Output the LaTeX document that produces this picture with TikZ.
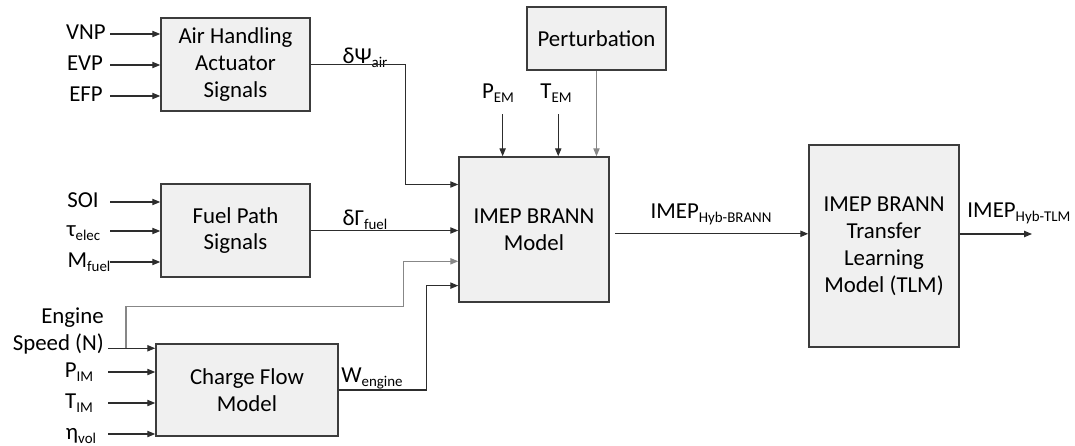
\documentclass[tikz,border=0pt]{standalone}
\usepackage{fontspec}
\setmainfont{Carlito}
\usetikzlibrary{
  arrows.meta,
  calc
}
\definecolor{boxfill}{RGB}{240,240,240}
\definecolor{boxline}{RGB}{60,60,60}
\definecolor{wire}{RGB}{45,45,45}
\definecolor{wiregray}{RGB}{135,135,135}
\newcommand{\subtxt}[1]{\raisebox{-2.5pt}{\fontsize{8.5}{9}\selectfont #1}}

\begin{document}
\begin{tikzpicture}[x=0.02cm, y=-0.02cm,
    every node/.style={font=\fontsize{13}{15.3}\selectfont},
    block/.style={draw=boxline, line width=0.9pt, fill=boxfill, align=center, inner sep=0pt},
    lbl/.style={text height=8pt, text depth=2pt, inner sep=0pt},
    sig/.style={draw=wire, line width=0.6pt, -{Triangle[length=4.5pt,width=3.6pt]}},
    graysig/.style={sig, draw=wiregray}]
            \useasboundingbox (0,0) rectangle (1075,446);

            % Blocks
            \node[block, minimum width=2.98cm, minimum height=1.86cm] (air) at (235.5,64.5) {Air Handling\\Actuator\\Signals};
            \node[block, minimum width=2.98cm, minimum height=1.86cm] (fuel) at (235.5,230.5) {Fuel Path\\Signals};
            \node[block, minimum width=3.64cm, minimum height=1.84cm] (charge) at (247,390) {Charge Flow\\Model};
            \node[block, minimum width=3cm, minimum height=2.9cm] (imep) at (534,229.5) {IMEP BRANN\\Model};
            \node[block, minimum width=2.78cm, minimum height=1.26cm] (pert) at (596.5,38.5) {Perturbation};
            \node[block, minimum width=3cm, minimum height=4.04cm] (tlm) at (884,246) {IMEP BRANN\\Transfer\\Learning\\Model (TLM)};

            % Ports
            \coordinate (inA) at (110,0);
            \coordinate (inB) at (108,0);
            \coordinate (imep-in1) at ($(imep.north west)!0.193!(imep.south west)$);
            \coordinate (imep-in3) at ($(imep.north west)!0.717!(imep.south west)$);
            \coordinate (imep-in4) at ($(imep.north west)!0.883!(imep.south west)$);
            \coordinate (imep-pem) at ($(imep.north west)!0.293!(imep.north east)$);
            \coordinate (imep-tem) at ($(imep.north west)!0.66!(imep.north east)$);
            \coordinate (spd-in) at ($(charge.north west)!0.054!(charge.south west)$);
            \coordinate (tlm-in) at ($(tlm.north west)!0.44!(tlm.south west)$);
            \coordinate (tlm-out) at (1032,234);

            % Input labels
            \node[lbl] (vnp) at (86,34) {VNP};
            \node[lbl] (evp) at (85,65) {EVP};
            \node[lbl] (efp) at (86,96) {EFP};
            \node[lbl] (soi) at (83,202) {SOI};
            \node[lbl] (tau) at (83.5,231) {τ\subtxt{elec}};
            \node[lbl] (mfuel) at (89,262) {M\subtxt{fuel}};
            \node[align=right, anchor=east] (speed) at (110,331) {Engine\\Speed (N)};
            \node[lbl] (pim) at (79,372) {P\subtxt{IM}};
            \node[lbl] (tim) at (79,403) {T\subtxt{IM}};
            \node[lbl] (eta) at (81,434) {η\subtxt{vol}};
            \node[lbl] (pem) at (498,93) {P\subtxt{EM}};
            \node[lbl] (tem) at (556,93) {T\subtxt{EM}};

            % Signal labels
            \node[lbl] (dpsi) at (365,58) {δΨ\subtxt{air}};
            \node[lbl] (dgam) at (365,220) {δΓ\subtxt{fuel}};
            \node[lbl] (weng) at (372,377) {W\subtxt{engine}};
            \node[lbl] (hybb) at (711,213) {IMEP\subtxt{Hyb-BRANN}};
            \node[lbl] (hybt) at (1019,212) {IMEP\subtxt{Hyb-TLM}};

            % Inputs
            \draw[sig] (vnp -| inA) -- (vnp -| air.west);
            \draw[sig] (evp -| inA) -- (evp -| air.west);
            \draw[sig] (efp -| inA) -- (efp -| air.west);
            \draw[sig] (soi -| inA) -- (soi -| fuel.west);
            \draw[sig] (tau -| inA) -- (tau -| fuel.west);
            \draw[sig] (mfuel -| inA) -- (mfuel -| fuel.west);
            \draw[sig] (spd-in -| inB) -- (spd-in);
            \draw[sig] (pim -| inB) -- (pim -| charge.west);
            \draw[sig] (tim -| inB) -- (tim -| charge.west);
            \draw[sig] (eta -| inB) -- (eta -| charge.west);
            \draw[sig] ($(imep-pem |- pem.south)+(0,12)$) -- (imep-pem);
            \draw[sig] ($(imep-tem |- tem.south)+(0,12)$) -- (imep-tem);
            \draw[graysig] (pert.south) -- (pert.south |- imep.north);

            % Into the BRANN model
            \draw[sig] (air.east) -| ($(imep-in1)+(-53,0)$) -- (imep-in1);
            \draw[sig] (fuel.east) -- (fuel.east -| imep.west);
            \draw[graysig] ($(spd-in -| inB)+(18,0)$) -- ++(0,-42) -| ($(imep-in3)+(-55,0)$) -- (imep-in3);
            \draw[sig] (charge.east) -| ($(imep-in4)+(-32,0)$) -- (imep-in4);

            % Outputs
            \draw[sig] ($(tlm-in -| imep.east)+(5,0)$) -- (tlm-in);
            \draw[sig] (tlm-out -| tlm.east) -- (tlm-out);
        \end{tikzpicture}
\end{document}
